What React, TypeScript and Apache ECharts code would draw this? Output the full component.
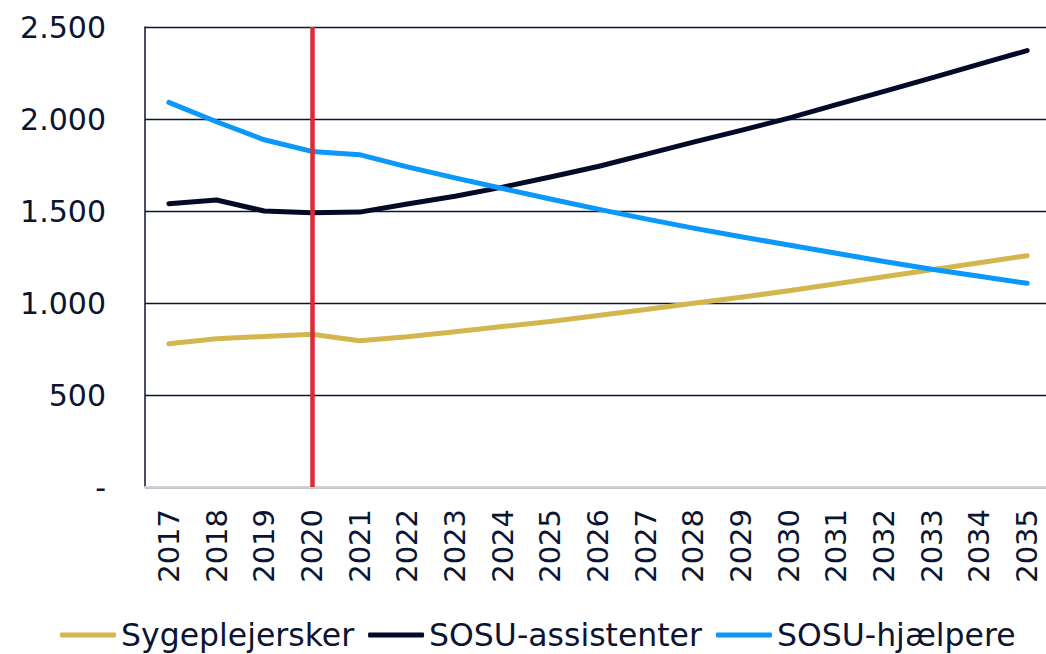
import React, { useEffect, useRef } from "react";
import * as echarts from "echarts";

const years = ["2017","2018","2019","2020","2021","2022","2023","2024","2025","2026","2027","2028","2029","2030","2031","2032","2033","2034","2035"];
const sygeplejersker = [779, 806, 818, 830, 795, 816, 844, 872, 900, 932, 965, 999, 1031, 1067, 1105, 1143, 1181, 1219, 1257];
const sosuAssistenter = [1540, 1560, 1500, 1490, 1494, 1538, 1580, 1630, 1685, 1742, 1808, 1874, 1938, 2005, 2078, 2150, 2224, 2298, 2372];
const sosuHjaelpere = [2090, 1985, 1887, 1824, 1806, 1740, 1680, 1622, 1565, 1510, 1457, 1407, 1360, 1315, 1270, 1226, 1183, 1145, 1107];
const yTicks = { 0: "-", 500: "500", 1000: "1.000", 1500: "1.500", 2000: "2.000", 2500: "2.500" } as Record<number, string>;
const markYear = "2020";

const NAVY = "#0B1430";
const FONT = "DejaVu Sans";

export default function App() {
  const ref = useRef<HTMLDivElement>(null);
  useEffect(() => {
    if (!ref.current) return;
    const chart = echarts.init(ref.current, undefined, { renderer: "svg" });
    chart.setOption({
      animation: false,
      backgroundColor: "#ffffff",
      grid: { left: 145, top: 27, width: 906, height: 460 },
      legend: {
        top: 612,
        left: 55,
        icon: "roundRect",
        itemWidth: 56,
        itemHeight: 5,
        itemGap: 14,
        textStyle: { color: NAVY, fontSize: 31.5, fontFamily: FONT, lineHeight: 36 },
        data: ["Sygeplejersker", "SOSU-assistenter", "SOSU-hjælpere"],
      },
      xAxis: {
        type: "category",
        data: years,
        boundaryGap: true,
        axisLine: { show: true, lineStyle: { color: "#d0d0d0", width: 2 } },
        axisTick: { show: false },
        axisLabel: { rotate: 90, margin: 22, color: NAVY, fontSize: 29, fontFamily: FONT, interval: 0 },
      },
      yAxis: {
        type: "value",
        min: 0,
        max: 2500,
        interval: 500,
        axisLine: { show: true, lineStyle: { color: NAVY, width: 1.5 } },
        axisTick: { show: false },
        splitLine: { lineStyle: { color: NAVY, width: 1.3 } },
        axisLabel: {
          margin: 39,
          color: NAVY,
          fontSize: 30,
          fontFamily: FONT,
          formatter: (v: number) => yTicks[v] ?? String(v),
        },
      },
      series: [
        {
          name: "Sygeplejersker",
          type: "line",
          data: sygeplejersker,
          showSymbol: false,
          symbol: "none",
          itemStyle: { color: "#D4B64F" },
          lineStyle: { color: "#D4B64F", width: 5, cap: "round", join: "round" },
        },
        {
          name: "SOSU-assistenter",
          type: "line",
          data: sosuAssistenter,
          showSymbol: false,
          symbol: "none",
          itemStyle: { color: "#030B26" },
          lineStyle: { color: "#030B26", width: 5, cap: "round", join: "round" },
        },
        {
          name: "SOSU-hjælpere",
          type: "line",
          data: sosuHjaelpere,
          showSymbol: false,
          symbol: "none",
          itemStyle: { color: "#0A98FA" },
          lineStyle: { color: "#0A98FA", width: 5, cap: "round", join: "round" },
          markLine: {
            silent: true,
            symbol: "none",
            label: { show: false },
            lineStyle: { color: "#DC2A38", width: 4.5, type: "solid" },
            data: [{ xAxis: markYear }],
          },
        },
      ],
    });
    return () => chart.dispose();
  }, []);
  return (
    <div style={{ position: "absolute", left: 0, top: 0, width: 1046, height: 654, overflow: "hidden" }}>
      <div ref={ref} style={{ width: 1064, height: 654 }} />
    </div>
  );
}
